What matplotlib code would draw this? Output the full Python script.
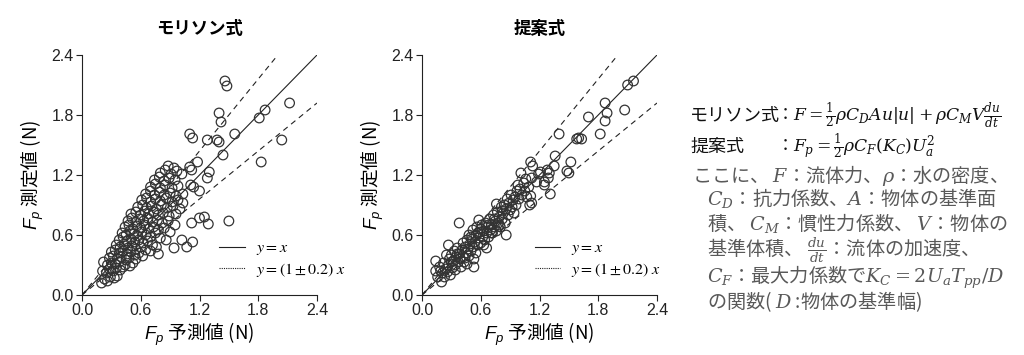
import matplotlib
matplotlib.use('Agg')
import matplotlib.pyplot as plt
import numpy as np
from matplotlib.font_manager import FontProperties
from matplotlib.lines import Line2D

plt.rcParams['font.family'] = ['Noto Sans CJK JP', 'DejaVu Sans']
plt.rcParams['mathtext.fontset'] = 'stix'
plt.rcParams['mathtext.rm'] = 'Liberation Sans'
plt.rcParams['mathtext.it'] = 'Liberation Sans:italic'

morison_pts = np.array([
    (0.20, 0.12), (0.23, 0.16), (0.26, 0.14), (0.29, 0.18), (0.33, 0.17), (0.36, 0.19),
    (0.21, 0.24), (0.25, 0.22), (0.28, 0.26), (0.32, 0.24), (0.35, 0.27), (0.39, 0.25), (0.42, 0.28),
    (0.22, 0.33), (0.26, 0.30), (0.30, 0.32), (0.34, 0.31), (0.38, 0.33), (0.44, 0.30), (0.49, 0.29),
    (0.52, 0.32), (0.28, 0.37), (0.32, 0.39), (0.36, 0.36), (0.40, 0.38), (0.45, 0.35), (0.48, 0.37),
    (0.55, 0.36), (0.30, 0.43), (0.34, 0.45), (0.38, 0.42), (0.42, 0.44), (0.46, 0.41), (0.50, 0.43),
    (0.54, 0.40), (0.58, 0.42), (0.62, 0.39), (0.78, 0.41), (0.35, 0.50), (0.39, 0.48), (0.43, 0.51),
    (0.47, 0.47), (0.51, 0.49), (0.55, 0.46), (0.60, 0.48), (0.65, 0.45), (0.70, 0.44), (0.38, 0.55),
    (0.42, 0.58), (0.46, 0.54), (0.50, 0.56), (0.54, 0.53), (0.58, 0.55), (0.62, 0.52), (0.67, 0.54),
    (0.72, 0.50), (0.76, 0.48), (0.41, 0.62), (0.45, 0.60), (0.49, 0.64), (0.53, 0.61), (0.57, 0.59),
    (0.61, 0.63), (0.65, 0.60), (0.70, 0.58), (0.75, 0.62), (0.80, 0.57), (0.86, 0.55), (0.44, 0.68),
    (0.48, 0.70), (0.52, 0.66), (0.56, 0.69), (0.60, 0.67), (0.64, 0.70), (0.68, 0.66), (0.73, 0.68),
    (0.78, 0.65), (0.84, 0.67), (0.90, 0.63), (0.47, 0.74), (0.51, 0.77), (0.55, 0.73), (0.59, 0.76),
    (0.63, 0.74), (0.67, 0.77), (0.72, 0.73), (0.77, 0.75), (0.82, 0.72), (0.88, 0.74), (0.95, 0.70),
    (0.50, 0.81), (0.55, 0.83), (0.60, 0.80), (0.64, 0.84), (0.68, 0.81), (0.73, 0.83), (0.78, 0.80),
    (0.83, 0.82), (0.89, 0.79), (0.96, 0.81), (0.57, 0.88), (0.62, 0.90), (0.66, 0.87), (0.71, 0.89),
    (0.76, 0.86), (0.81, 0.90), (0.87, 0.87), (0.93, 0.89), (1.00, 0.86), (0.61, 0.95), (0.66, 0.97),
    (0.70, 0.93), (0.75, 0.96), (0.80, 0.94), (0.86, 0.97), (0.92, 0.93), (0.98, 0.95), (0.65, 1.01),
    (0.70, 1.04), (0.74, 1.00), (0.79, 1.03), (0.84, 1.00), (0.90, 1.02), (0.96, 0.99), (0.70, 1.08),
    (0.75, 1.11), (0.80, 1.07), (0.85, 1.10), (0.92, 1.07), (0.98, 1.09), (0.74, 1.15), (0.79, 1.18),
    (0.84, 1.14), (0.89, 1.17), (0.95, 1.15), (0.80, 1.22), (0.85, 1.25), (0.91, 1.21), (0.97, 1.24),
    (1.02, 1.21), (0.88, 1.29), (0.94, 1.27),
    (1.46, 2.14), (1.48, 2.09), (2.12, 1.92), (1.87, 1.85), (1.81, 1.77), (1.40, 1.82), (1.42, 1.73),
    (1.56, 1.61), (1.10, 1.61), (1.13, 1.57), (1.28, 1.55), (1.38, 1.55), (1.40, 1.53), (2.04, 1.55),
    (1.83, 1.33), (1.44, 1.40), (1.18, 1.33), (1.10, 1.28), (1.12, 1.25), (1.30, 1.23), (1.28, 1.17),
    (1.20, 1.04), (1.11, 1.10), (1.14, 1.08), (1.03, 1.01), (1.03, 0.92), (1.25, 0.78), (1.20, 0.77),
    (1.29, 0.71), (1.50, 0.74), (1.12, 0.72), (1.02, 0.55), (1.07, 0.48), (1.13, 0.53), (0.94, 0.47),
])

proposed_pts = np.array([
    (0.14, 0.34), (0.14, 0.24), (0.16, 0.18), (0.18, 0.28), (0.20, 0.13), (0.21, 0.22), (0.22, 0.32),
    (0.24, 0.26), (0.25, 0.40), (0.27, 0.50), (0.27, 0.30), (0.28, 0.36), (0.29, 0.20), (0.30, 0.40),
    (0.31, 0.27), (0.32, 0.34), (0.33, 0.44), (0.34, 0.30), (0.35, 0.38), (0.36, 0.47), (0.37, 0.33),
    (0.38, 0.72), (0.38, 0.41), (0.39, 0.36), (0.40, 0.28), (0.41, 0.45), (0.42, 0.52), (0.42, 0.38),
    (0.43, 0.33), (0.44, 0.48), (0.45, 0.42), (0.46, 0.55), (0.46, 0.31), (0.47, 0.46), (0.48, 0.60),
    (0.48, 0.39), (0.49, 0.51), (0.50, 0.44), (0.51, 0.56), (0.52, 0.65), (0.52, 0.48), (0.53, 0.28),
    (0.54, 0.53), (0.55, 0.60), (0.55, 0.42), (0.56, 0.68), (0.57, 0.50), (0.58, 0.75), (0.58, 0.57),
    (0.59, 0.63), (0.60, 0.52), (0.61, 0.70), (0.62, 0.58), (0.63, 0.64), (0.64, 0.55), (0.65, 0.72),
    (0.66, 0.62), (0.66, 0.47), (0.67, 0.68), (0.68, 0.58), (0.69, 0.76), (0.70, 0.65), (0.71, 0.70),
    (0.72, 0.62), (0.73, 0.80), (0.74, 0.68), (0.75, 0.74), (0.76, 0.91), (0.76, 0.64), (0.77, 0.83),
    (0.78, 0.72), (0.79, 0.78), (0.80, 0.68), (0.81, 0.88), (0.82, 0.76), (0.83, 0.82), (0.84, 0.90),
    (0.85, 0.72), (0.86, 0.60), (0.86, 0.86), (0.87, 0.96), (0.88, 0.80), (0.89, 0.92), (0.90, 0.85),
    (0.91, 1.00), (0.92, 0.88), (0.93, 0.95), (0.94, 0.82), (0.96, 0.90), (0.97, 1.04), (0.98, 1.10),
    (0.99, 0.96), (1.00, 1.06), (1.01, 1.22), (1.02, 1.00), (1.04, 1.12), (1.05, 1.04), (1.06, 1.16),
    (1.07, 0.98), (1.09, 1.08), (1.10, 0.90), (1.11, 0.99), (1.11, 1.33), (1.12, 0.92), (1.12, 1.17),
    (1.13, 1.29), (1.17, 1.13), (1.19, 1.21), (1.21, 1.23), (1.25, 1.10), (1.25, 1.13), (1.28, 1.25),
    (1.29, 1.17), (1.30, 1.22), (1.31, 1.01), (1.35, 1.29), (1.36, 1.39), (1.40, 1.61), (1.48, 1.24),
    (1.50, 1.22), (1.52, 1.33), (1.58, 1.56), (1.60, 1.57), (1.63, 1.56), (1.70, 1.78), (1.82, 1.61),
    (1.87, 1.74), (1.87, 1.92), (1.89, 1.82), (2.07, 1.85), (2.10, 2.10), (2.16, 2.14),
    (0.19, 0.24), (0.23, 0.18), (0.26, 0.23), (0.30, 0.33), (0.34, 0.25), (0.36, 0.41), (0.44, 0.37),
    (0.50, 0.58), (0.53, 0.36), (0.57, 0.62), (0.60, 0.66), (0.63, 0.50), (0.68, 0.70), (0.71, 0.62),
    (0.74, 0.76), (0.79, 0.70), (0.82, 0.84), (0.95, 0.98),
])

ticks = [0.0, 0.6, 1.2, 1.8, 2.4]
tick_labels = ['0.0', '0.6', '1.2', '1.8', '2.4']
titles = ['モリソン式', '提案式']

W, H = 1024, 355
fig = plt.figure(figsize=(W / 100, H / 100), dpi=100)


def px(x, y):
    return x / W, 1 - y / H


def draw_panel(ax, pts, title, legend_x):
    line = np.array([0.0, 2.4])
    ax.plot(line, line, color='#222222', lw=0.8, zorder=1)
    upper = np.array([0.0, 2.0])
    ax.plot(upper, 1.2 * upper, color='#222222', lw=0.8, ls=(0, (5, 4)), zorder=1)
    ax.plot(line, 0.8 * line, color='#222222', lw=0.8, ls=(0, (5, 4)), zorder=1)
    ax.scatter(pts[:, 0], pts[:, 1], s=48, facecolors='none', edgecolors='#333333',
               linewidths=0.9, zorder=2, clip_on=False)

    ax.set_xlim(0, 2.4)
    ax.set_ylim(0, 2.4)
    ax.set_xticks(ticks)
    ax.set_yticks(ticks)
    ax.set_xticklabels(tick_labels, fontfamily='Liberation Sans', fontsize=11.5)
    ax.set_yticklabels(tick_labels, fontfamily='Liberation Sans', fontsize=11.5)
    ax.tick_params(direction='out', length=4, width=0.8, pad=2, colors='#222222')
    for side in ['top', 'right']:
        ax.spines[side].set_visible(False)
    for side in ['left', 'bottom']:
        ax.spines[side].set_linewidth(0.8)
        ax.spines[side].set_color('#222222')

    ax.set_title(title, fontsize=12.5, fontweight='bold', pad=15)
    ax.set_xlabel(r'$F_p$ 予測値 (N)', fontsize=13.5, math_fontfamily='custom', labelpad=2)
    ax.set_ylabel(r'$F_p$ 測定値 (N)', fontsize=13.5, math_fontfamily='custom', labelpad=4)

    handles = [Line2D([], [], color='#222222', lw=0.8),
               Line2D([], [], color='#222222', lw=0.8, ls=(0, (1, 1)))]
    labels = [r'$y = x$', r'$y = (1 \pm 0.2)\;x$']
    ax.legend(handles, labels, loc='lower left', bbox_to_anchor=(legend_x, 0.035),
              frameon=False, borderpad=0, handlelength=1.6, handletextpad=0.7,
              labelspacing=0.2, prop=FontProperties(size=11.5, math_fontfamily='stix'))


ax1 = fig.add_axes([82 / W, 1 - 295 / H, 235 / W, 240 / H])
ax2 = fig.add_axes([422 / W, 1 - 295 / H, 235 / W, 240 / H])
draw_panel(ax1, morison_pts, titles[0], 0.55)
draw_panel(ax2, proposed_pts, titles[1], 0.445)

# equation notes on the right
black = '#111111'
gray = '#595959'
fs = 13.8
eq_fs = 12.3
mf = 'dejavuserif'
fig.text(*px(690, 121), 'モリソン式', fontsize=13, color=black, va='baseline')
fig.text(*px(776, 121), r'：$F=\frac{1}{2}\rho C_D A u|u| + \rho C_M V\frac{du}{dt}$',
         fontsize=eq_fs, color=black, va='baseline', math_fontfamily=mf)
fig.text(*px(690, 152), '提案式', fontsize=13, color=black, va='baseline')
fig.text(*px(776, 152), r'：$F_p=\frac{1}{2}\rho C_F(K_C)U_a^2$',
         fontsize=eq_fs, color=black, va='baseline', math_fontfamily=mf)

notes = [
    (692, 181.5, r'ここに、 $F$：流体力、$\rho$：水の密度、'),
    (707, 205, r'$C_D$：抗力係数、$A$：物体の基準面'),
    (707, 230, r'積、 $C_M$：慣性力係数、 $V$：物体の'),
    (707, 256, r'基準体積、 $\frac{du}{dt}$：流体の加速度、'),
    (707, 283, r'$C_F$：最大力係数で$K_C=2U_aT_{pp}/D$'),
    (707, 308, r'の関数( $D$ :物体の基準幅)'),
]
for x, y, s in notes:
    fig.text(*px(x, y), s, fontsize=fs, color=gray, va='baseline', math_fontfamily=mf)

fig.savefig('out.png', dpi=100)
